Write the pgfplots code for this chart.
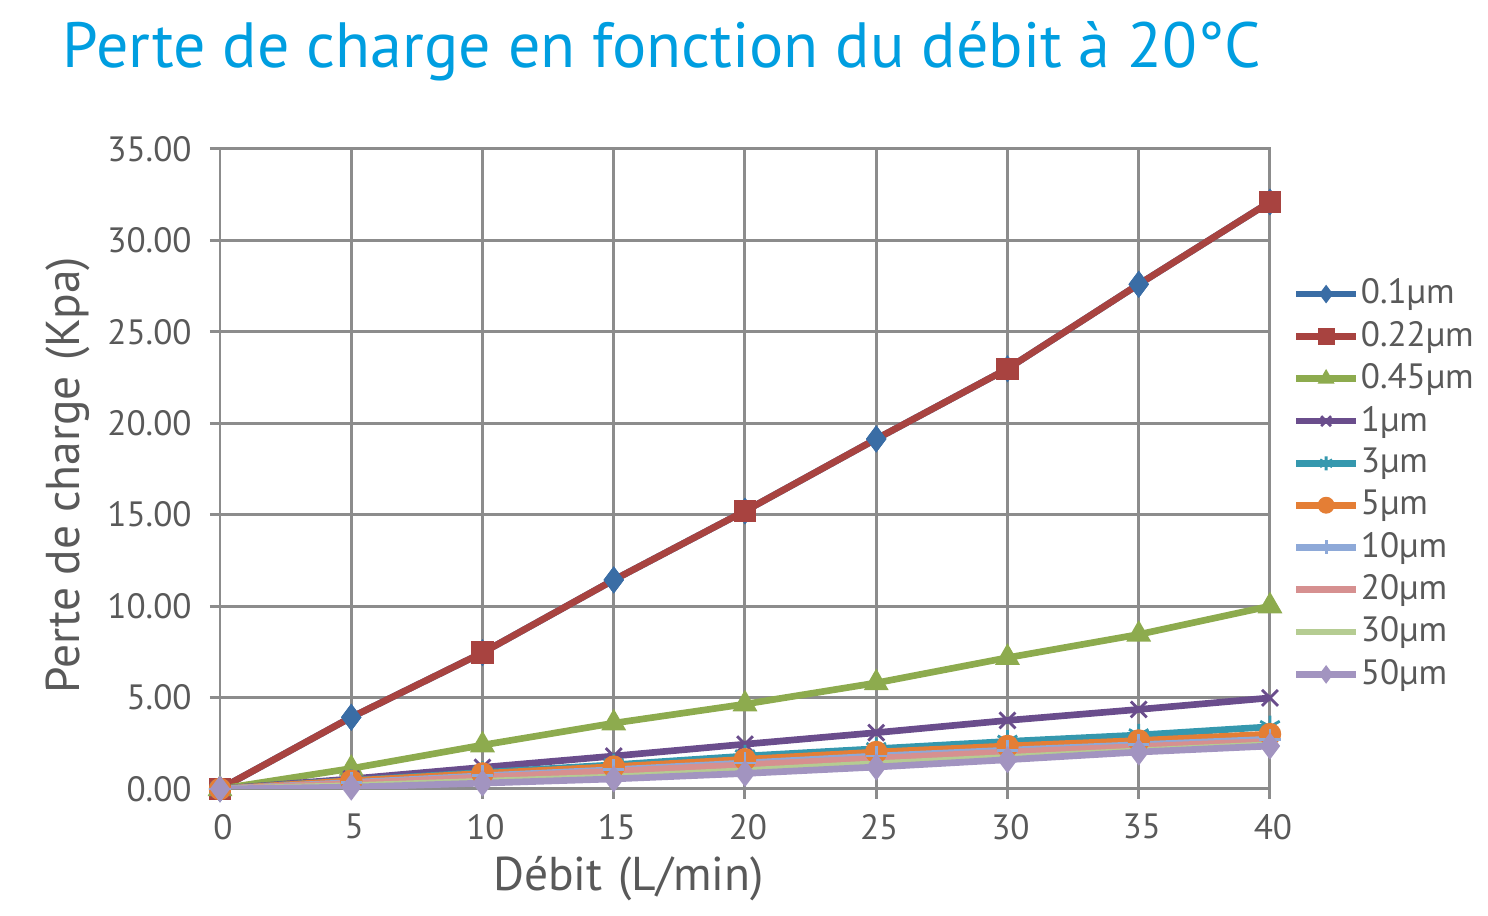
\documentclass[border=0pt]{standalone}
\usepackage{fontspec}
\setmainfont{PT Sans}
\usepackage{pgfplots}
\pgfplotsset{compat=1.18}

\definecolor{titleblue}{RGB}{0,158,224}
\definecolor{textgray}{RGB}{89,89,89}
\definecolor{gridgray}{RGB}{140,140,140}
\definecolor{sblue}{RGB}{58,109,165}
\definecolor{sred}{RGB}{168,67,64}
\definecolor{sgreen}{RGB}{141,171,78}
\definecolor{spurple}{RGB}{106,77,140}
\definecolor{steal}{RGB}{53,152,174}
\definecolor{sorange}{RGB}{228,126,53}
\definecolor{slightblue}{RGB}{142,169,216}
\definecolor{spink}{RGB}{214,144,144}
\definecolor{slightgreen}{RGB}{181,204,146}
\definecolor{slavender}{RGB}{162,148,192}

\begin{document}
\begin{tikzpicture}
\path[use as bounding box] (0,0) rectangle (148.8mm,91.6mm);
\node[anchor=base west, text=titleblue, font=\fontsize{18.2}{22}\selectfont, inner sep=0pt]
  at (6.2mm,84.8mm) {Perte de charge en fonction du débit à 20°C};

\begin{axis}[
at={(22mm,12.7mm)}, anchor=south west,
scale only axis,
width=105mm, height=64mm,
xmin=0, xmax=40, ymin=0, ymax=35,
xtick={0,5,...,40}, ytick={0,5,...,35},
grid=major,
grid style={gridgray, line width=0.85pt},
axis line style={gridgray, line width=0.85pt},
major tick style={gridgray, line width=0.85pt},
tick align=outside, tick pos=left,
major tick length=1mm,
ticklabel style={textgray, font=\fontsize{10}{12}\selectfont},
xticklabel style={yshift=-0.3mm, xshift=0.3mm},
/pgf/number format/assume math mode=true,
yticklabel style={xshift=-0.6mm, /pgf/number format/.cd, fixed, fixed zerofill, precision=2},
xlabel={Débit\,\,(L/min)},
ylabel={Perte de charge\,\,(Kpa)},
label style={textgray, font=\fontsize{13.5}{16}\selectfont},
xlabel style={at={(axis description cs:0.389,-0.14)}, anchor=center},
ylabel style={at={(axis description cs:-0.145,0.49)}, anchor=center},
legend cell align={left},
legend style={at={(1.011,0.82)}, anchor=north west, draw=none, fill=none,
  font=\fontsize{10}{12}\selectfont, text=textgray, row sep=-0.2mm,
  nodes={inner xsep=0.4pt},
  /tikz/every odd column/.append style={column sep=0mm}},
legend image code/.code={\draw[mark repeat=2,mark phase=2,mark size=2pt,#1] plot coordinates {(0mm,0mm)(3mm,0mm)(6mm,0mm)};},
every axis plot/.append style={line width=1.9pt, mark size=2.8pt, mark options={solid, line width=0.8pt}},
]
% 0.1 um (line below the 0.22 um line)
\addplot[sblue, mark=diamond*, mark size=3.2pt] coordinates {
(0,0) (5,3.92) (10,7.45) (15,11.43) (20,15.2) (25,19.14) (30,22.98) (35,27.6) (40,32.1)};
\addlegendentry{0.1µm}
\addplot[sred, mark=square*, mark repeat=2, mark phase=1] coordinates {
(0,0) (5,3.92) (10,7.45) (15,11.43) (20,15.2) (25,19.14) (30,22.98) (35,27.6) (40,32.1)};
\addlegendentry{0.22µm}
\addplot[sblue, only marks, mark=diamond*, mark size=3.2pt, mark repeat=2, mark phase=2, forget plot] coordinates {
(0,0) (5,3.92) (10,7.45) (15,11.43) (20,15.2) (25,19.14) (30,22.98) (35,27.6) (40,32.1)};
\addplot[sgreen, mark=triangle*, mark size=3.3pt] coordinates {
(0,0) (5,1.12) (10,2.4) (15,3.6) (20,4.64) (25,5.8) (30,7.18) (35,8.45) (40,10.0)};
\addlegendentry{0.45µm}
\addplot[spurple, mark=x, mark size=3.2pt] coordinates {
(0,0) (5,0.55) (10,1.18) (15,1.8) (20,2.45) (25,3.08) (30,3.75) (35,4.35) (40,4.98)};
\addlegendentry{1µm}
\addplot[steal, mark=asterisk, mark size=3.2pt] coordinates {
(0,0) (5,0.47) (10,0.9) (15,1.32) (20,1.8) (25,2.2) (30,2.6) (35,2.95) (40,3.4)};
\addlegendentry{3µm}
\addplot[sorange, mark=*] coordinates {
(0,0) (5,0.45) (10,0.85) (15,1.22) (20,1.62) (25,2.02) (30,2.35) (35,2.65) (40,3.0)};
\addlegendentry{5µm}
\addplot[slightblue, mark=+, mark size=3pt] coordinates {
(0,0) (5,0.35) (10,0.72) (15,1.05) (20,1.42) (25,1.8) (30,2.12) (35,2.42) (40,2.72)};
\addlegendentry{10µm}
\addplot[spink, mark=none] coordinates {
(0,0) (5,0.3) (10,0.65) (15,0.97) (20,1.32) (25,1.68) (30,2.02) (35,2.32) (40,2.6)};
\addlegendentry{20µm}
\addplot[slightgreen, mark=none] coordinates {
(0,0) (5,0.18) (10,0.42) (15,0.65) (20,1.0) (25,1.38) (30,1.72) (35,2.08) (40,2.42)};
\addlegendentry{30µm}
\addplot[slavender, mark=diamond*, mark size=3.2pt] coordinates {
(0,0) (5,0.1) (10,0.32) (15,0.55) (20,0.85) (25,1.2) (30,1.6) (35,2.02) (40,2.35)};
\addlegendentry{50µm}
\end{axis}
\end{tikzpicture}
\end{document}
